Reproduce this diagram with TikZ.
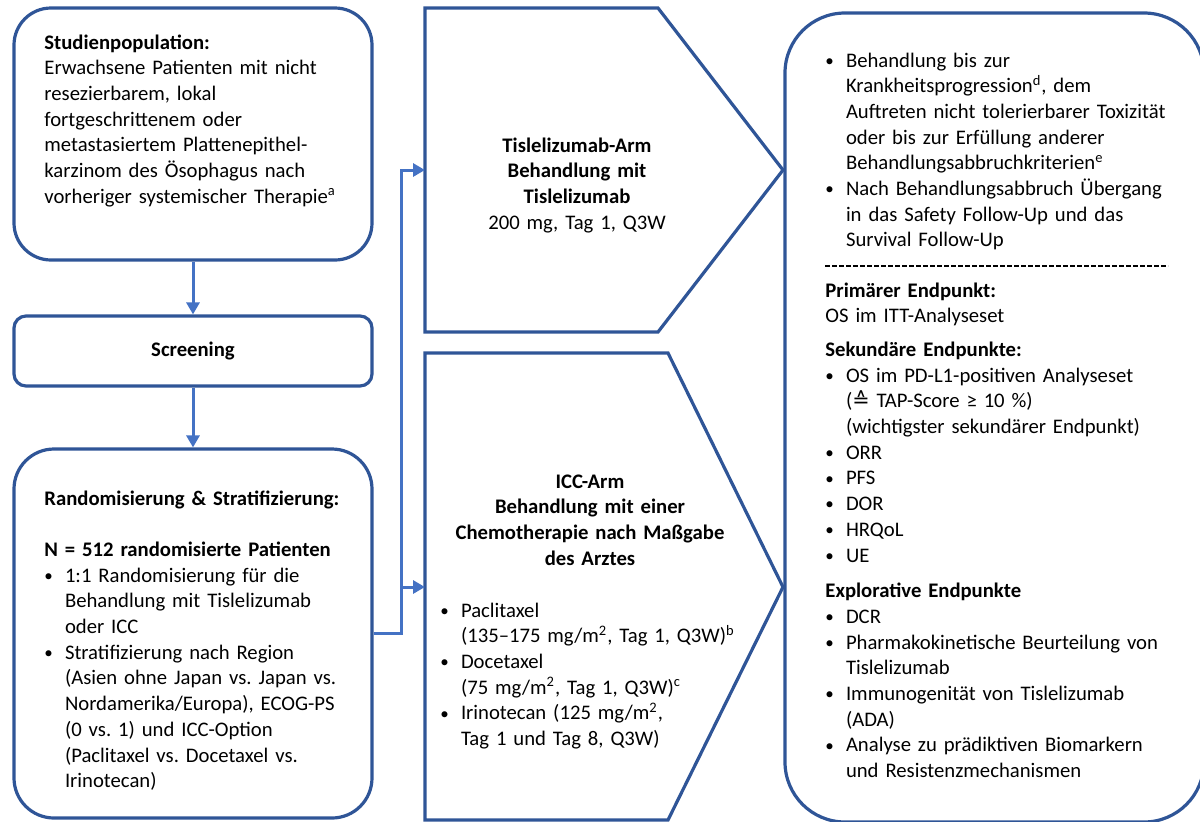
\documentclass[tikz,border=0pt]{standalone}
\usepackage{fontspec}
\setmainfont{Carlito}
\newfontfamily\symbfont{DejaVu Sans}
\usetikzlibrary{arrows.meta}
\definecolor{boxblue}{HTML}{2F5597}
\definecolor{arrowblue}{HTML}{4472C4}
\frenchspacing
\newcommand{\bul}{\makebox[10.3pt][l]{\fontsize{8.5}{8.5}\selectfont\raisebox{0.4pt}{\textbullet}}}
\newcommand{\ind}{\hspace*{10.3pt}}
\begin{document}
\begin{tikzpicture}[x=0.5pt, y=-0.5pt,
    font=\fontsize{10.35}{12.85}\selectfont,
    box/.style={draw=boxblue, line width=1.6pt, rounded corners=#1},
    box/.default=6pt,
    txt/.style={inner sep=0pt, anchor=base west, align=left, text width=#1},
    txt/.default=165pt,
    mid/.style={inner sep=0pt, anchor=base, align=center, text width=#1},
    arr/.style={draw=arrowblue, line width=1.5pt, -{Triangle[length=6pt,width=6.5pt]}}]
      \useasboundingbox (0,0) rectangle (1200,821);
      \node[box=18.5pt, minimum width=179pt, minimum height=126pt] (pop) at (193,134) {};
      \node[box=6pt, minimum width=179pt, minimum height=35pt, font=\fontsize{10.35}{12.85}\selectfont\bfseries] (scr) at (193,351) {Screening};
      \node[box=20pt, minimum width=179pt, minimum height=184.5pt] (rand) at (193,633.5) {};
      \node[box=30pt, minimum width=209.5pt, minimum height=404.5pt] (ende) at (994.5,417.5) {};
      \draw[boxblue, line width=1.6pt, line join=miter] (425,8) -- (658,8) -- (783,170) -- (658,332) -- (425,332) -- cycle;
      \draw[boxblue, line width=1.6pt, line join=miter] (425,353) -- (668,353) -- (783,587) -- (668,820) -- (425,820) -- cycle;
      \coordinate (tarm) at (425,170);
      \coordinate (iccarm) at (425,587);
      \path (rand.east) ++(28,0) coordinate (split);
      \node[txt] (popText) at (44,49) {\textbf{Studienpopulation:}\\
        Erwachsene Patienten mit nicht\\
        resezierbarem, lokal\\
        fortgeschrittenem oder\\
        metastasiertem Plattenepithel-\\
        karzinom des Ösophagus nach\\
        vorheriger systemischer Therapie\textsuperscript{a}};
      \node[txt] (randText) at (44,505) {\textbf{Randomisierung \& Stratifizierung:}\\[12.85pt]
        \textbf{N = 512 randomisierte Patienten}\\
        \bul 1:1 Randomisierung für die\\
        \ind Behandlung mit Tislelizumab\\
        \ind oder ICC\\
        \bul Stratifizierung nach Region\\
        \ind (Asien ohne Japan vs. Japan vs.\\
        \ind Nordamerika/Europa), ECOG-PS\\
        \ind (0 vs. 1) und ICC-Option\\
        \ind (Paclitaxel vs. Docetaxel vs.\\
        \ind Irinotecan)};
      \node[mid=170pt] (tarmText) at (577,152) {\textbf{Tislelizumab-Arm}\\
        \textbf{Behandlung mit}\\
        \textbf{Tislelizumab}\\
        200 mg, Tag 1, Q3W};
      \node[mid=170pt] (iccText) at (590,488) {\textbf{ICC-Arm}\\
        \textbf{Behandlung mit einer}\\
        \textbf{Chemotherapie nach Maßgabe}\\
        \textbf{des Arztes}};
      \node[txt] (iccList) at (440,617) {\bul Paclitaxel\\
        \ind (135–175 mg/m\textsuperscript{2}, Tag 1, Q3W)\textsuperscript{b}\\
        \bul Docetaxel\\
        \ind (75 mg/m\textsuperscript{2}, Tag 1, Q3W)\textsuperscript{c}\\
        \bul Irinotecan (125 mg/m\textsuperscript{2},\\
        \ind Tag 1 und Tag 8, Q3W)};
      \node[txt=190pt] (endeText) at (825,67) {\bul Behandlung bis zur\\
        \ind Krankheitsprogression\textsuperscript{d}, dem\\
        \ind Auftreten nicht tolerierbarer Toxizität\\
        \ind oder bis zur Erfüllung anderer\\
        \ind Behandlungsabbruchkriterien\textsuperscript{e}\\
        \bul Nach Behandlungsabbruch Übergang\\
        \ind in das Safety Follow-Up und das\\
        \ind Survival Follow-Up};
      \draw[line width=0.6pt, dash pattern=on 2.6pt off 0.9pt] (825,266) -- (1168,266);
      \node[txt=190pt] (endpText) at (825,297) {\textbf{Primärer Endpunkt:}\\
        OS im ITT-Analyseset\\[4pt]
        \textbf{Sekundäre Endpunkte:}\\
        \bul OS im PD-L1-positiven Analyseset\\
        \ind ({\symbfont ≙} TAP-Score ≥ 10 \%)\\
        \ind (wichtigster sekundärer Endpunkt)\\
        \bul ORR\\
        \bul PFS\\
        \bul DOR\\
        \bul HRQoL\\
        \bul UE\\[5pt]
        \textbf{Explorative Endpunkte}\\
        \bul DCR\\
        \bul Pharmakokinetische Beurteilung von\\
        \ind Tislelizumab\\
        \bul Immunogenität von Tislelizumab\\
        \ind (ADA)\\
        \bul Analyse zu prädiktiven Biomarkern\\
        \ind und Resistenzmechanismen};
      \draw[arr] (pop) -- (scr);
      \draw[arr] (scr) -- (rand);
      \draw[arr] (rand.east) -- (split) |- (tarm);
      \draw[arr] (split) |- (iccarm);
    \end{tikzpicture}
\end{document}
